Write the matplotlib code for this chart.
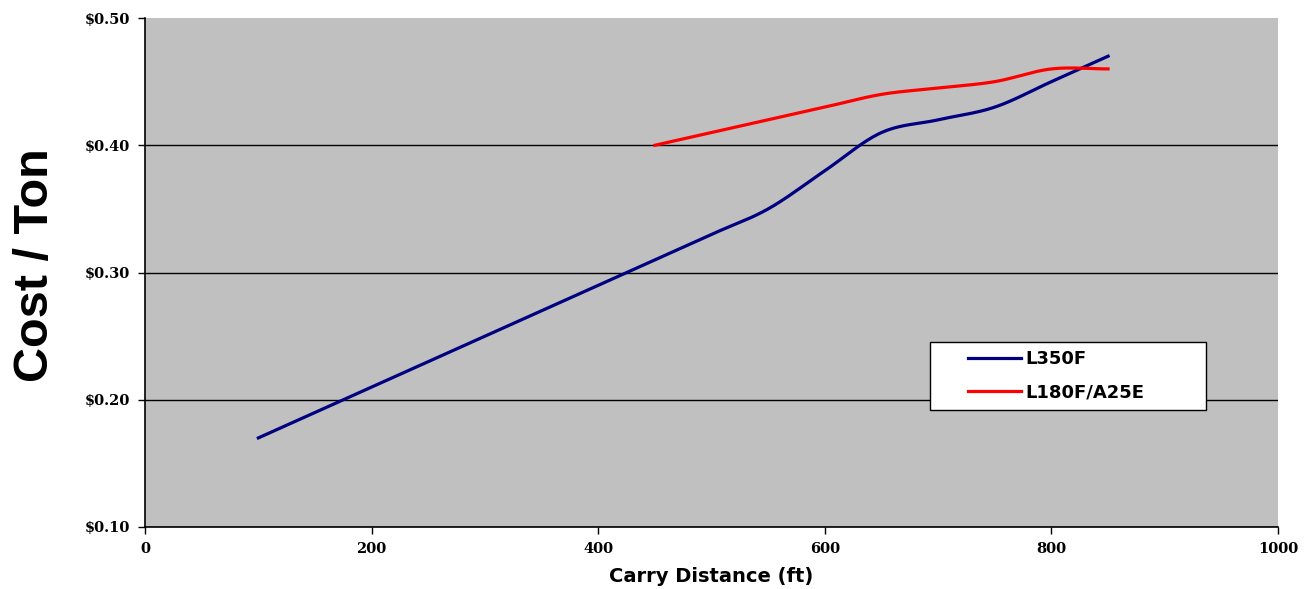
import numpy as np
import matplotlib.pyplot as plt
from matplotlib.ticker import FuncFormatter
from matplotlib.legend_handler import HandlerLine2D

# carry distance (ft) and cost per ton for each loader setup
dist_l350 = [100, 150, 200, 250, 300, 350, 400, 450, 500, 550, 600, 650, 700, 750, 800, 850]
cost_l350 = [0.17, 0.19, 0.21, 0.23, 0.25, 0.27, 0.29, 0.31, 0.33, 0.35, 0.38, 0.41, 0.42, 0.43, 0.45, 0.47]

dist_l180 = [450, 500, 550, 600, 650, 700, 750, 800, 850]
cost_l180 = [0.40, 0.41, 0.42, 0.43, 0.44, 0.445, 0.45, 0.46, 0.46]

x_ticks = [0, 200, 400, 600, 800, 1000]
y_ticks = [0.10, 0.20, 0.30, 0.40, 0.50]


def smooth(x, y, n=20):
    # Catmull-Rom spline through the points, like a spreadsheet "smoothed line"
    x = np.asarray(x, float)
    y = np.asarray(y, float)
    px = np.concatenate([[2 * x[0] - x[1]], x, [2 * x[-1] - x[-2]]])
    py = np.concatenate([[2 * y[0] - y[1]], y, [2 * y[-1] - y[-2]]])
    t = np.linspace(0, 1, n, endpoint=False)
    xs, ys = [], []
    for i in range(1, len(px) - 2):
        for p, out in ((px, xs), (py, ys)):
            p0, p1, p2, p3 = p[i - 1], p[i], p[i + 1], p[i + 2]
            out.extend(0.5 * (2 * p1 + (-p0 + p2) * t
                              + (2 * p0 - 5 * p1 + 4 * p2 - p3) * t ** 2
                              + (-p0 + 3 * p1 - 3 * p2 + p3) * t ** 3))
    xs.append(x[-1])
    ys.append(y[-1])
    return xs, ys


class IndentedLine(HandlerLine2D):
    # legend line drawn only in the right part of the handle box
    def create_artists(self, legend, orig_handle, xdescent, ydescent,
                       width, height, fontsize, trans):
        arts = super().create_artists(legend, orig_handle, xdescent, ydescent,
                                      width, height, fontsize, trans)
        for a in arts:
            yy = a.get_ydata()[0]
            a.set_data([width * 0.36 - xdescent, width - xdescent], [yy, yy])
        return arts


fig = plt.figure(figsize=(13.15, 5.89), dpi=100)
ax = fig.add_axes([0.1103, 0.1053, 0.8616, 0.8641])
ax.set_facecolor('#c0c0c0')

ax.plot(*smooth(dist_l350, cost_l350), color='#000080', lw=2.3, label='L350F')
ax.plot(*smooth(dist_l180, cost_l180), color='#ff0000', lw=2.3, label='L180F/A25E')

ax.set_xlim(0, 1000)
ax.set_ylim(0.10, 0.50)
ax.set_xticks(x_ticks)
ax.set_yticks(y_ticks)
ax.yaxis.set_major_formatter(FuncFormatter(lambda v, p: '$%.2f' % v))
ax.yaxis.grid(True, color='black', lw=1)
ax.yaxis.get_gridlines()[-1].set_visible(False)
ax.set_axisbelow(True)

for s in ['top', 'right']:
    ax.spines[s].set_visible(False)
for s in ['left', 'bottom']:
    ax.spines[s].set_color('black')
    ax.spines[s].set_linewidth(1.2)

ax.tick_params(direction='out', length=5, width=1, colors='black', pad=6)
for lab in ax.get_xticklabels() + ax.get_yticklabels():
    lab.set_fontfamily('DejaVu Serif')
    lab.set_fontweight('bold')
    lab.set_fontsize(10.5)

ax.set_xlabel('Carry Distance (ft)', fontfamily='DejaVu Sans', fontweight='bold',
              fontsize=14, labelpad=8)
fig.text(0.027, 0.55, 'Cost / Ton', rotation=90, ha='center', va='center',
         fontfamily='Liberation Sans', fontweight='bold', fontsize=35)

leg = ax.legend(loc='lower left', bbox_to_anchor=(0.693, 0.23, 0.243, 0.1375),
                mode='expand', fancybox=False, framealpha=1, edgecolor='black',
                prop={'family': 'DejaVu Sans', 'weight': 'bold', 'size': 13},
                handlelength=4.6, handletextpad=0.22, borderpad=0.45,
                borderaxespad=0, labelspacing=0.85,
                handler_map={plt.Line2D: IndentedLine()})
leg.get_frame().set_linewidth(1)

fig.savefig('out.png', dpi=100)
